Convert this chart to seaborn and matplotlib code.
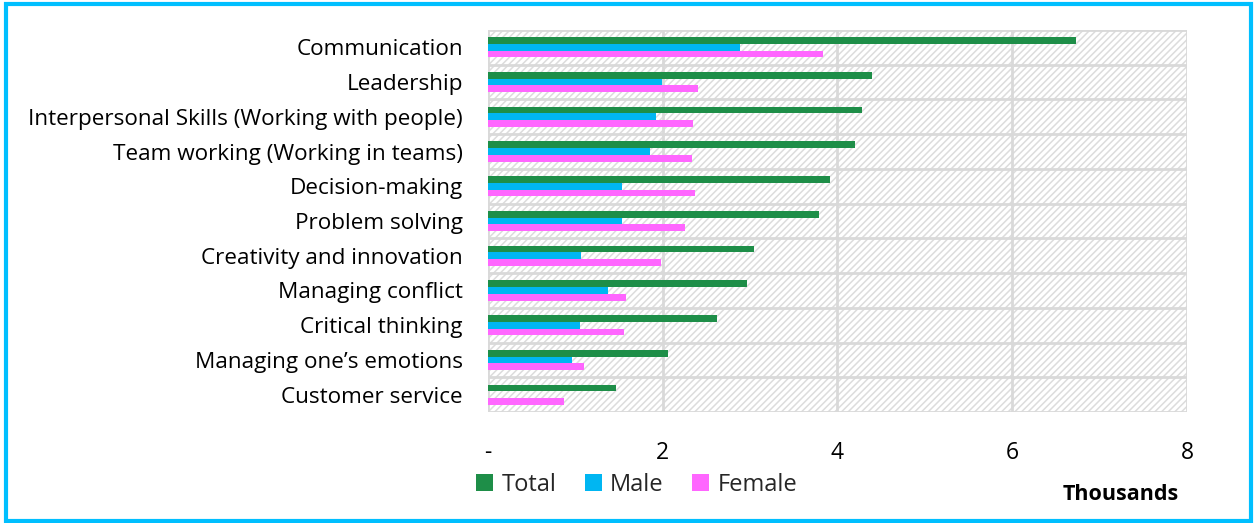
import matplotlib
matplotlib.use("Agg")
import matplotlib.pyplot as plt
from matplotlib.patches import Rectangle, Patch
from matplotlib.ticker import FixedLocator
import seaborn as sns
import pandas as pd
import numpy as np

skills = [
    "Communication",
    "Leadership",
    "Interpersonal Skills (Working with people)",
    "Team working (Working in teams)",
    "Decision-making",
    "Problem solving",
    "Creativity and innovation",
    "Managing conflict",
    "Critical thinking",
    "Managing one\u2019s emotions",
    "Customer service",
]
total = [6.73, 4.39, 4.28, 4.20, 3.91, 3.79, 3.05, 2.96, 2.62, 2.06, 1.47]
male = [2.88, 1.99, 1.92, 1.85, 1.53, 1.53, 1.06, 1.37, 1.05, 0.96, 0.0]
female = [3.84, 2.40, 2.35, 2.33, 2.37, 2.25, 1.98, 1.58, 1.56, 1.10, 0.87]
series = ["Total", "Male", "Female"]
colors = ["#1E8E48", "#00B6F2", "#FF66FF"]
x_ticks = [0, 2, 4, 6, 8]
x_tick_labels = ["-", "2", "4", "6", "8"]

df = pd.DataFrame({
    "Skill": skills * 3,
    "Value": total + male + female,
    "Series": [s for s in series for _ in skills],
})

sns.set_theme(style="white")
plt.rcParams["font.family"] = ["Open Sans", "DejaVu Sans"]
plt.rcParams["hatch.linewidth"] = 1.1

fig = plt.figure(figsize=(12.55, 5.23), dpi=100)
ax = fig.add_axes([0.3888, 0.2122, 0.5570, 0.7304])

# hatched plot background
ax.add_patch(Rectangle((0, 0), 1, 1, transform=ax.transAxes, facecolor="white",
                       edgecolor="#DCDCDC", hatch="/////", linewidth=0, zorder=0))

sns.barplot(data=df, x="Value", y="Skill", hue="Series", order=skills,
            hue_order=series, palette=colors, width=0.58, saturation=1,
            edgecolor="none", linewidth=0, ax=ax, zorder=3, legend=False)

ax.set_xlim(0, 8)
ax.set_ylim(len(skills) - 0.5, -0.5)
ax.xaxis.set_major_locator(FixedLocator(x_ticks))
ax.set_xticklabels(x_tick_labels, fontsize=16.5, color="#000000")
ax.tick_params(axis="x", length=0, pad=21)
ax.tick_params(axis="y", length=0, pad=18, labelsize=16.2, labelcolor="#000000")
for lbl in ax.get_yticklabels():
    lbl.set_horizontalalignment("right")
ax.set_xlabel("")
ax.set_ylabel("")

# grid: vertical at major x ticks, horizontal between categories
ax.grid(False)
for xv in x_ticks:
    ax.axvline(xv, color="#D9D9D9", linewidth=2, zorder=1)
for yb in np.arange(-0.5, len(skills), 1.0):
    ax.axhline(yb, color="#D9D9D9", linewidth=2, zorder=1)
for sp in ax.spines.values():
    sp.set_visible(False)

handles = [Patch(facecolor=c, edgecolor="none") for c in colors]
fig.legend(handles, series, loc="upper left", bbox_to_anchor=(0.372, 0.114),
           ncol=3, frameon=False, fontsize=17, handlelength=0.72,
           handleheight=0.72, handletextpad=0.35, columnspacing=1.2,
           borderaxespad=0)

fig.text(0.939, 0.055, "Thousands", ha="right", va="center", fontsize=15.5,
         fontweight="bold", color="#000000")

# outer frame
fig.patches.append(Rectangle((0.0045, 0.004), 0.9925, 0.988,
                             transform=fig.transFigure, fill=False,
                             edgecolor="#00BFFF", linewidth=3, zorder=10))

fig.savefig("out.png", dpi=100, facecolor="white")
